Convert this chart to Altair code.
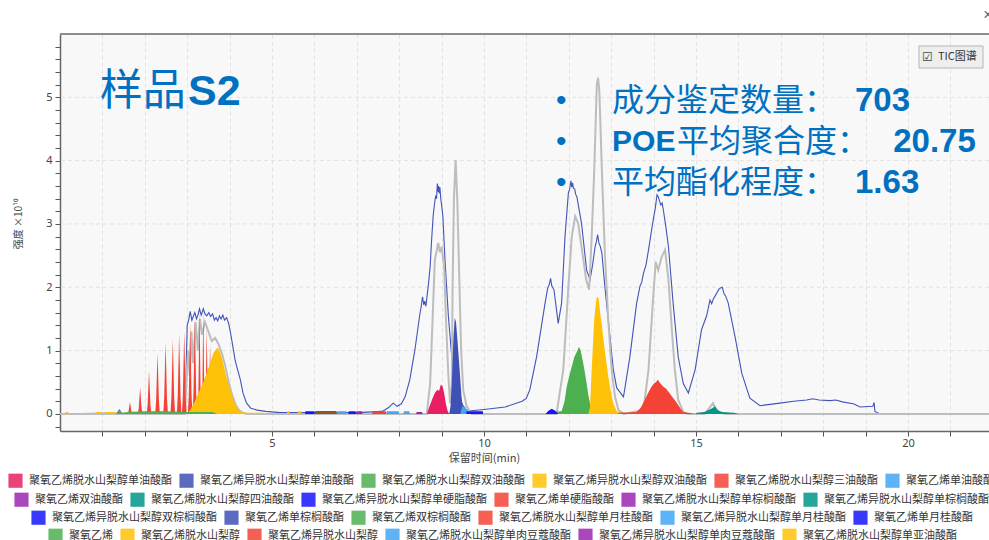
import altair as alt
import pandas as pd

CJK = "Noto Sans CJK SC"
LATIN = "Liberation Sans"
TEXT_BLUE = "#0070c0"

# ---------------- axes ----------------
X_MAX = 21.91
Y_MIN, Y_MAX = -0.27, 6.0
x_ticks = list(range(1, 22))
y_ticks = [round(-0.2 + 0.2 * i, 1) for i in range(31)]
y_grid = [0, 1, 2, 3, 4, 5]

# ---------------- legend rows ----------------
row1_names = ["聚氧乙烯脱水山梨醇单油酸酯", "聚氧乙烯异脱水山梨醇单油酸酯", "聚氧乙烯脱水山梨醇双油酸酯",
              "聚氧乙烯异脱水山梨醇双油酸酯", "聚氧乙烯脱水山梨醇三油酸酯", "聚氧乙烯单油酸酯"]
row1_colors = ["#e91e63", "#3f51b5", "#4caf50", "#ffc107", "#f44336", "#42a5f5"]
row2_names = ["聚氧乙烯双油酸酯", "聚氧乙烯脱水山梨醇四油酸酯", "聚氧乙烯异脱水山梨醇单硬脂酸酯",
              "聚氧乙烯单硬脂酸酯", "聚氧乙烯脱水山梨醇单棕榈酸酯", "聚氧乙烯异脱水山梨醇单棕榈酸酯"]
row2_colors = ["#9c27b0", "#009688", "#1515ff", "#f44336", "#9c27b0", "#009688"]
row3_names = ["聚氧乙烯异脱水山梨醇双棕榈酸酯", "聚氧乙烯单棕榈酸酯", "聚氧乙烯双棕榈酸酯",
              "聚氧乙烯脱水山梨醇单月桂酸酯", "聚氧乙烯异脱水山梨醇单月桂酸酯", "聚氧乙烯单月桂酸酯"]
row3_colors = ["#1515ff", "#3f51b5", "#4caf50", "#f44336", "#42a5f5", "#1515ff"]
row4_names = ["聚氧乙烯", "聚氧乙烯脱水山梨醇", "聚氧乙烯异脱水山梨醇",
              "聚氧乙烯脱水山梨醇单肉豆蔻酸酯", "聚氧乙烯异脱水山梨醇单肉豆蔻酸酯", "聚氧乙烯脱水山梨醇单亚油酸酯"]
row4_colors = ["#4caf50", "#ffc107", "#f44336", "#42a5f5", "#9c27b0", "#ffc107"]

# ---------------- traces (time in min, intensity x1e10) ----------------
# oligomer ladder apexes of 聚氧乙烯异脱水山梨醇
ladder_t = [1.65, 1.89, 2.10, 2.30, 2.49, 2.66, 2.81, 2.93, 3.07, 3.18, 3.29, 3.38, 3.46, 3.54, 3.62, 3.70, 3.78]
ladder_h = [0.19, 0.42, 0.68, 0.96, 1.14, 1.18, 1.27, 1.30, 1.43, 1.51, 1.64, 1.65, 1.35, 1.10, 0.95, 0.80, 0.60]

tic_trace = [
    (0.0, 0.0), (1.0, 0.01), (1.35, 0.01), (1.40, 0.06), (1.45, 0.01), (1.55, 0.0), (2.95, 0.0),
    (3.0, 1.40), (3.04, 1.50), (3.07, 1.62), (3.11, 1.48), (3.15, 1.55), (3.18, 1.60), (3.22, 1.50),
    (3.26, 1.58), (3.29, 1.66), (3.33, 1.56), (3.38, 1.66), (3.42, 1.58), (3.46, 1.55), (3.51, 1.60),
    (3.55, 1.54), (3.60, 1.58), (3.64, 1.48), (3.68, 1.52), (3.72, 1.47), (3.76, 1.55), (3.80, 1.50),
    (3.84, 1.56), (3.88, 1.48), (3.93, 1.52), (3.98, 1.42), (4.03, 1.25), (4.08, 1.05), (4.13, 0.85),
    (4.18, 0.72), (4.25, 0.55), (4.32, 0.32), (4.40, 0.17), (4.50, 0.09), (4.65, 0.06), (4.85, 0.04),
    (5.2, 0.02), (6.0, 0.02), (7.0, 0.02), (7.6, 0.04), (7.75, 0.10), (7.86, 0.17), (7.95, 0.12),
    (8.05, 0.16), (8.14, 0.27), (8.25, 0.54), (8.37, 1.01), (8.49, 1.59), (8.52, 1.70), (8.55, 1.85),
    (8.58, 1.72), (8.60, 1.78), (8.63, 1.70), (8.65, 1.82), (8.69, 2.05), (8.73, 2.33), (8.76, 2.70),
    (8.80, 3.12), (8.83, 3.30), (8.86, 3.45), (8.88, 3.40), (8.90, 3.64), (8.92, 3.50), (8.93, 3.60),
    (8.95, 3.48), (8.96, 3.58), (8.98, 3.40), (9.00, 3.30), (9.03, 3.12), (9.08, 2.43), (9.16, 1.54),
    (9.24, 0.90), (9.32, 0.60), (9.40, 0.40), (9.47, 0.18), (9.55, 0.07), (9.70, 0.05), (10.0, 0.07),
    (10.5, 0.11), (10.9, 0.20), (11.0, 0.25), (11.08, 0.38), (11.24, 0.90), (11.44, 1.75),
    (11.50, 1.98), (11.54, 2.05), (11.57, 2.14), (11.60, 2.02), (11.65, 1.96), (11.75, 1.43),
    (11.83, 1.75), (11.91, 2.80), (11.99, 3.49), (12.02, 3.55), (12.05, 3.68), (12.07, 3.58),
    (12.09, 3.65), (12.11, 3.56), (12.14, 3.55), (12.16, 3.47), (12.19, 3.43), (12.25, 3.20),
    (12.30, 3.01), (12.42, 2.27), (12.50, 2.12), (12.56, 2.35), (12.62, 2.64), (12.65, 2.72),
    (12.68, 2.83), (12.71, 2.70), (12.74, 2.65), (12.78, 2.54), (12.85, 2.01), (12.97, 1.22),
    (13.05, 0.70), (13.13, 0.41), (13.29, 0.27), (13.44, 0.90), (13.60, 1.75), (13.68, 2.02),
    (13.72, 2.08), (13.76, 2.22), (13.82, 2.35), (13.88, 2.59), (13.94, 2.85), (13.99, 3.06),
    (14.04, 3.25), (14.08, 3.46), (14.11, 3.43), (14.14, 3.36), (14.17, 3.30), (14.20, 3.33),
    (14.23, 3.22), (14.29, 2.95), (14.35, 2.64), (14.46, 1.75), (14.58, 0.90), (14.70, 0.48),
    (14.82, 0.33), (14.98, 0.70), (15.13, 1.33), (15.25, 1.55), (15.33, 1.80), (15.37, 1.74),
    (15.41, 1.82), (15.45, 1.86), (15.50, 1.92), (15.54, 1.97), (15.58, 1.99), (15.62, 2.00),
    (15.66, 1.90), (15.70, 1.86), (15.76, 1.75), (15.92, 1.22), (16.08, 0.64), (16.27, 0.25),
    (16.51, 0.13), (16.98, 0.17), (17.3, 0.20), (17.61, 0.22), (17.75, 0.24), (17.9, 0.22),
    (18.16, 0.21), (18.30, 0.22), (18.45, 0.19), (18.71, 0.16), (18.87, 0.11), (19.17, 0.12),
    (19.20, 0.18), (19.22, 0.04), (19.34, 0.0), (21.91, 0.0),
]

grey_trace = [
    (0.0, 0.0), (2.95, 0.0), (2.98, 0.5), (3.02, 1.0), (3.06, 0.6), (3.10, 1.3), (3.14, 0.8),
    (3.20, 1.45), (3.25, 1.0), (3.30, 1.5), (3.35, 1.25), (3.42, 1.45), (3.50, 1.30), (3.58, 1.15),
    (3.66, 1.20), (3.74, 1.10), (3.82, 0.95), (3.90, 0.75), (3.98, 0.50), (4.06, 0.30), (4.14, 0.15),
    (4.22, 0.06), (4.30, 0.02), (4.40, 0.0), (8.65, 0.0), (8.73, 0.48), (8.79, 1.54), (8.84, 2.43),
    (8.92, 2.70), (8.96, 2.55), (9.00, 2.64), (9.06, 2.33), (9.10, 1.54), (9.16, 0.59), (9.20, 0.17),
    (9.24, 0.48), (9.26, 2.06), (9.29, 3.38), (9.33, 4.01), (9.37, 3.38), (9.42, 2.06), (9.46, 1.01),
    (9.51, 0.38), (9.59, 0.12), (9.71, 0.0), (11.71, 0.0), (11.87, 0.70), (11.99, 2.01), (12.07, 2.80),
    (12.15, 3.12), (12.22, 3.01), (12.30, 2.64), (12.41, 2.12), (12.48, 1.96), (12.54, 2.80),
    (12.60, 3.85), (12.66, 5.20), (12.69, 5.31), (12.72, 5.10), (12.78, 3.85), (12.85, 2.54),
    (12.93, 1.49), (13.01, 0.70), (13.09, 0.27), (13.17, 0.06), (13.30, 0.0), (13.76, 0.06),
    (13.88, 0.70), (13.99, 1.85), (14.05, 2.40), (14.11, 2.27), (14.19, 2.48), (14.27, 2.59),
    (14.35, 2.12), (14.43, 1.33), (14.50, 0.70), (14.58, 0.22), (14.70, 0.03), (14.80, 0.0),
    (15.20, 0.0), (15.30, 0.08), (15.40, 0.17), (15.45, 0.10), (15.55, 0.03), (15.70, 0.0), (21.91, 0.0),
]

mono_oleate = [(8.65, 0), (8.73, 0.15), (8.79, 0.25), (8.84, 0.33), (8.90, 0.38), (8.94, 0.36), (8.98, 0.46),
               (9.02, 0.44), (9.06, 0.33), (9.10, 0.16), (9.14, 0.05), (9.18, 0)]
iso_mono_oleate = [(9.18, 0), (9.21, 0.12), (9.24, 0.49), (9.28, 1.22), (9.31, 1.52), (9.34, 1.45), (9.37, 1.20),
                   (9.42, 0.75), (9.47, 0.27), (9.51, 0.04), (9.54, 0)]
di_oleate = [(11.55, 0), (11.60, 0.03), (11.83, 0.04), (11.90, 0.20), (11.95, 0.43), (12.01, 0.60), (12.07, 0.75),
             (12.13, 0.90), (12.19, 0.98), (12.24, 1.06), (12.28, 1.00), (12.34, 0.80), (12.38, 0.65),
             (12.42, 0.48), (12.46, 0.30), (12.50, 0.17), (12.54, 0.04), (12.58, 0)]
iso_di_oleate = [(12.46, 0), (12.50, 0.10), (12.54, 0.70), (12.57, 1.10), (12.60, 1.49), (12.63, 1.70),
                 (12.66, 1.85), (12.70, 1.83), (12.74, 1.59), (12.78, 1.40), (12.81, 1.22), (12.85, 1.00),
                 (12.89, 0.80), (12.93, 0.60), (12.97, 0.43), (13.01, 0.28), (13.05, 0.17), (13.13, 0.04),
                 (13.25, 0.02), (13.30, 0)]
tri_oleate = [(13.15, 0), (13.20, 0.02), (13.60, 0.03), (13.70, 0.10), (13.79, 0.22), (13.87, 0.33),
              (13.95, 0.43), (14.01, 0.48), (14.07, 0.51), (14.10, 0.54), (14.15, 0.49), (14.23, 0.43),
              (14.29, 0.40), (14.35, 0.35), (14.46, 0.25), (14.52, 0.20), (14.58, 0.14), (14.64, 0.08),
              (14.70, 0.03), (14.90, 0.01), (14.95, 0)]
poe_mono_oleate = [(9.44, 0), (9.48, 0.10), (9.55, 0.12), (9.60, 0.05), (9.66, 0)]
tetra_oleate = [(14.98, 0), (15.02, 0.02), (15.20, 0.03), (15.30, 0.06), (15.38, 0.09), (15.45, 0.12),
                (15.50, 0.06), (15.60, 0.03), (15.90, 0.02), (16.0, 0)]
iso_di_palmitate = [(11.45, 0), (11.52, 0.05), (11.60, 0.08), (11.68, 0.05), (11.75, 0)]
poe_free = [(1.30, 0), (1.36, 0.02), (1.40, 0.07), (1.45, 0.02), (1.60, 0.03), (2.0, 0.04), (2.5, 0.04),
            (3.0, 0.03), (3.6, 0.03), (3.7, 0)]
sorbitan_poe = [(3.0, 0), (3.07, 0.06), (3.18, 0.20), (3.30, 0.38), (3.38, 0.50), (3.46, 0.65), (3.54, 0.80),
                (3.62, 0.96), (3.68, 1.02), (3.73, 1.05), (3.79, 0.95), (3.85, 0.80), (3.91, 0.62),
                (3.97, 0.49), (4.03, 0.35), (4.09, 0.22), (4.17, 0.10), (4.25, 0.04), (4.40, 0.02),
                (4.80, 0.02), (4.85, 0)]

# small baseline traces: (start, end, height)
sorbitan_poe_bits = [(0.12, 0.20, 0.03), (0.85, 1.00, 0.03), (1.05, 1.30, 0.03)]
di_oleate_poe_bits = [(6.98, 7.13, 0.04)]
iso_mono_stearate_bits = [(9.58, 9.98, 0.04)]
mono_stearate_bits = [(7.36, 7.70, 0.04)]
mono_palmitate_bits = [(8.40, 8.55, 0.03)]
iso_mono_laurate_bits = [(6.53, 6.76, 0.04)]
poe_mono_laurate_bits = [(5.78, 6.01, 0.04), (6.80, 6.98, 0.04)]
mono_myristate_bits = [(7.70, 8.00, 0.04), (8.10, 8.25, 0.04)]
mono_linoleate_bits = [(5.35, 5.42, 0.04), (5.60, 5.70, 0.04)]
unlisted_bits = [(6.01, 6.53, 0.045)]

# ---------------- shape helpers ----------------
spike_dx = [-1.0, -0.6, -0.3, 0.0, 0.3, 0.6, 1.0]
spike_k = [0.0, 0.22, 0.62, 1.0, 0.62, 0.22, 0.0]


def spikes(times, heights, max_half=0.055):
    """Narrow peaks around each apex; half-width limited by neighbouring apexes."""
    pts = []
    for i, (t, h) in enumerate(zip(times, heights)):
        gaps = []
        if i > 0:
            gaps.append(t - times[i - 1])
        if i < len(times) - 1:
            gaps.append(times[i + 1] - t)
        hw = min([max_half] + [g / 2 - 0.002 for g in gaps])
        for dx, k in zip(spike_dx, spike_k):
            pts.append((round(t + dx * hw, 4), k * h))
    return pts


def bits(segments):
    pts = []
    for a, b, h in segments:
        pts += [(a, 0.0), (a + 0.01, h), (b - 0.01, h), (b, 0.0)]
    return pts


def frame(name, pts):
    return pd.DataFrame({"series": name, "t": [p[0] for p in pts], "y": [p[1] for p in pts]})


tic_df = pd.DataFrame({"t": [p[0] for p in tic_trace], "y": [p[1] for p in tic_trace]})
grey_df = pd.DataFrame({"t": [p[0] for p in grey_trace], "y": [p[1] for p in grey_trace]})

row1_df = pd.concat([
    frame(row1_names[0], mono_oleate), frame(row1_names[1], iso_mono_oleate),
    frame(row1_names[2], di_oleate), frame(row1_names[3], iso_di_oleate),
    frame(row1_names[4], tri_oleate), frame(row1_names[5], poe_mono_oleate),
])
row2_df = pd.concat([
    frame(row2_names[0], bits(di_oleate_poe_bits)), frame(row2_names[1], tetra_oleate),
    frame(row2_names[2], bits(iso_mono_stearate_bits)), frame(row2_names[3], bits(mono_stearate_bits)),
    frame(row2_names[4], bits(mono_palmitate_bits)),
])
row3_df = pd.concat([
    frame(row3_names[0], iso_di_palmitate), frame(row3_names[4], bits(iso_mono_laurate_bits)),
    frame(row3_names[5], bits(poe_mono_laurate_bits)),
])
row4_ladder_df = frame(row4_names[2], spikes(ladder_t, ladder_h))
row4_df = pd.concat([
    frame(row4_names[1], sorbitan_poe + bits(sorbitan_poe_bits)), frame(row4_names[0], poe_free),
    frame(row4_names[3], bits(mono_myristate_bits)), frame(row4_names[5], bits(mono_linoleate_bits)),
])
unlisted_df = frame("其他", bits(unlisted_bits))

# ---------------- encodings ----------------
x_scale = alt.Scale(domain=[0, X_MAX], nice=False, zero=False)
y_scale = alt.Scale(domain=[Y_MIN, Y_MAX], nice=False, zero=False)
x_axis = alt.Axis(
    values=x_ticks, labelExpr="datum.value % 5 === 0 ? datum.label : ''", labelOverlap=False,
    grid=True, gridColor="#e2e2e2", gridDash=[4, 3], tickSize=5, tickColor="#555555",
    domainColor="#666666", domainWidth=1.5, labelFont="Noto Sans", labelFontSize=11,
    labelColor="#444444", labelPadding=1, labelFlush=False,
    title="保留时间(min)", titleFont=CJK, titleFontSize=11, titleFontWeight="normal",
    titleColor="#444444", titleX=424, titleY=27, titleAlign="center", titleBaseline="middle",
)
y_axis = alt.Axis(
    values=y_ticks, labelExpr="abs(datum.value - round(datum.value)) < 0.001 ? format(datum.value, 'd') : ''",
    labelOverlap=False, grid=False, tickSize=5, tickColor="#555555", domainColor="#666666",
    domainWidth=1.5, labelFont="Noto Sans", labelFontSize=11, labelColor="#444444", labelPadding=3,
    title="强度 ×10¹⁰", titleFont=CJK, titleFontSize=10, titleFontWeight="normal",
    titleColor="#444444", titleX=-42, titleY=189, titleAngle=270, titleAlign="center",
    titleBaseline="middle",
)


def X(field="t"):
    return alt.X(f"{field}:Q", scale=x_scale, axis=x_axis)


def Y(field="y"):
    return alt.Y(f"{field}:Q", scale=y_scale, axis=y_axis, stack=None)


def row_legend(lx, ly):
    return alt.Legend(
        orient="none", legendX=lx, legendY=ly, direction="horizontal", title=None,
        symbolType="square", symbolSize=200, symbolStrokeWidth=0, symbolOpacity=0.85,
        labelFont=CJK, labelFontSize=11, labelColor="#333333", labelLimit=400,
        labelOffset=6, columnPadding=7, padding=0,
    )


def area_layer(df, names, colors, legend):
    return alt.Chart(df).mark_area(opacity=1, clip=True).encode(
        x=X(), y=Y(),
        color=alt.Color("series:N", scale=alt.Scale(domain=names, range=colors), legend=legend),
    )


grid_layer = alt.Chart(pd.DataFrame({"v": y_grid})).mark_rule(
    color="#e2e2e2", strokeDash=[4, 3], strokeWidth=1
).encode(y=Y("v"))

tic_layer = alt.Chart(tic_df).mark_line(color="#4254b8", strokeWidth=1.1, clip=True).encode(x=X(), y=Y())
grey_layer = alt.Chart(grey_df).mark_line(color="#bdbdbd", strokeWidth=2, clip=True).encode(x=X(), y=Y())

row1 = area_layer(row1_df, row1_names, row1_colors, row_legend(-52, 439))
row2 = area_layer(row2_df, row2_names, row2_colors, row_legend(-46, 458))
row3 = area_layer(row3_df, row3_names, row3_colors, row_legend(-29, 476))
row4 = alt.layer(
    area_layer(row4_ladder_df, row4_names, row4_colors, row_legend(-12, 494)),
    area_layer(row4_df, row4_names, row4_colors, row_legend(-12, 494)),
)
unlisted = alt.Chart(unlisted_df).mark_area(color="#8d5524", clip=True).encode(x=X(), y=Y())

one = alt.Data(values=[{}])


def note(text, t, y, size, font, weight="normal", align="left", color=TEXT_BLUE):
    return alt.Chart(one).mark_text(
        text=text, align=align, baseline="middle", font=font, fontSize=size,
        fontWeight=weight, color=color,
    ).encode(x=alt.XDatum(t, type="quantitative", scale=x_scale, axis=x_axis),
             y=alt.YDatum(y, type="quantitative", scale=y_scale, axis=y_axis))


notes = [
    note("样品", 0.94, 5.08, 43, CJK),
    note("S2", 3.02, 5.08, 43, LATIN, "bold"),
    note("•", 11.82, 4.94, 30, LATIN, align="center"),
    note("•", 11.82, 4.30, 30, LATIN, align="center"),
    note("•", 11.82, 3.65, 30, LATIN, align="center"),
    note("成分鉴定数量：", 13.02, 4.94, 32, CJK),
    note("703", 18.75, 4.94, 33, LATIN, "bold"),
    note("POE", 13.02, 4.30, 30, LATIN, "bold"),
    note("平均聚合度：", 14.55, 4.30, 32, CJK),
    note("20.75", 19.65, 4.30, 33, LATIN, "bold"),
    note("平均酯化程度：", 13.02, 3.65, 32, CJK),
    note("1.63", 18.75, 3.65, 33, LATIN, "bold"),
]

top_border = alt.Chart(one).mark_rule(color="#8c8c8c", strokeWidth=2).encode(
    x=alt.value(0), x2=alt.value(929), y=alt.value(0))
tic_box = alt.Chart(one).mark_rect(fill="#eeeeee", stroke="#b4b4b4", strokeWidth=1).encode(
    x=alt.value(859), x2=alt.value(923), y=alt.value(12), y2=alt.value(34))
tic_check = alt.Chart(one).mark_text(text="☑", align="left", baseline="middle", font="DejaVu Sans",
                                     fontSize=12, color="#444444").encode(x=alt.value(862), y=alt.value(23))
tic_label = alt.Chart(one).mark_text(text="TIC图谱", align="left", baseline="middle", font=CJK,
                                     fontSize=11, color="#333333").encode(x=alt.value(878), y=alt.value(23))
close_mark = alt.Chart(one).mark_text(text="×", align="center", baseline="middle", font=LATIN,
                                      fontSize=16, color="#666666").encode(x=alt.value(928), y=alt.value(-19))

chart = alt.layer(
    grid_layer, tic_layer, grey_layer, row1, row2, row3, row4, unlisted,
    *notes, top_border, tic_box, tic_check, tic_label, close_mark,
).resolve_scale(color="independent").properties(
    width=929, height=397,
    padding={"left": 60, "top": 34, "right": 0, "bottom": 109},
    autosize=alt.AutoSizeParams(type="none"),
    background="white",
).configure_view(fill="#f8f8f8", stroke=None)

chart.save("out.html", embed_options={"renderer": "svg", "actions": False})
